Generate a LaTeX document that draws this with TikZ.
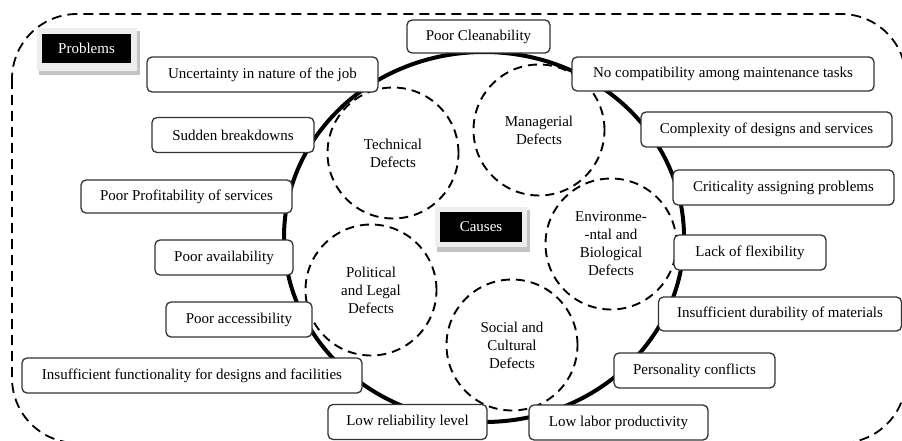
\documentclass[tikz,border=0pt]{standalone}
\usepackage{fontspec}
\setmainfont{Liberation Serif}
\definecolor{BoxBorder}{HTML}{333333}
\definecolor{FrameGray}{HTML}{EEEEEE}
\definecolor{ShadowGray}{HTML}{C4C4C4}
\usetikzlibrary{shapes.geometric, positioning}
\tikzset{
  % Box styles
  problembox/.style={rectangle, rounded corners=5pt, draw=BoxBorder, fill=white, line width=1.3pt, minimum height=35pt, inner sep=0pt, font=\fontsize{15}{18}\selectfont, align=center},
  tagbox/.style={rectangle, fill=black, text=white, inner sep=0pt, font=\fontsize{15}{18}\selectfont},
  % Circle styles
  causecircle/.style={circle, draw=black, dash pattern=on 9pt off 6pt, line width=1.9pt, minimum size=131pt, inner sep=0pt, font=\fontsize{15}{18}\selectfont, align=center},
  % Frame styles
  outerframe/.style={draw=black, dash pattern=on 10pt off 6pt, line width=1.8pt, rounded corners=65pt},
  coreline/.style={draw=black, line width=4pt}
}

\begin{document}
\begin{tikzpicture}[x=1pt, y=-1pt]
  \useasboundingbox (0,0) rectangle (902,441);
  \clip (0,0) rectangle (902,441);

  % Outer frame
  \draw[outerframe] (12,14) rectangle (906,443);

  % Core ring
  \draw[coreline] (484,237) ellipse (200pt and 185pt);

  % Causes
  \node[causecircle] (technical) at (393,153) {Technical\\Defects};
  \node[causecircle] (managerial) at (539,130) {Managerial\\Defects};
  \node[causecircle] (environmental) at (611,244) {Environme-\\-ntal and\\Biological\\Defects};
  \node[causecircle] (social) at (512,345) {Social and\\Cultural\\Defects};
  \node[causecircle] (political) at (371,290) {Political\\and Legal\\Defects};

  % Tags
  \fill[ShadowGray] (39,31) rectangle (140,75);
  \fill[FrameGray] (37,28) rectangle (137,71);
  \node[tagbox, minimum width=89pt, minimum height=29pt] (problems) at (86.5,48.5) {Problems};
  \fill[ShadowGray] (437,210) rectangle (530,252);
  \fill[FrameGray] (435,207) rectangle (527,247);
  \node[tagbox, minimum width=82pt, minimum height=30pt] (causes) at (481,227) {Causes};

  % Problems, left side
  \node[problembox, minimum width=143pt, minimum height=33pt] (cleanability) at (478.5,36.5) {Poor Cleanability};
  \node[problembox, minimum width=231pt] (uncertainty) at (262.5,74.5) {Uncertainty in nature of the job};
  \node[problembox, minimum width=162pt] (breakdowns) at (233,135) {Sudden breakdowns};
  \node[problembox, minimum width=211pt, minimum height=33pt] (profitability) at (186.5,196.5) {Poor Profitability of services};
  \node[problembox, minimum width=138pt] (availability) at (224,257.5) {Poor availability};
  \node[problembox, minimum width=146pt] (accessibility) at (239,319.5) {Poor accessibility};
  \node[problembox, minimum width=340pt] (functionality) at (192,375.5) {Insufficient functionality for designs and facilities};
  \node[problembox, minimum width=159pt] (reliability) at (407.5,422) {Low reliability level};

  % Problems, right side
  \node[problembox, minimum width=302pt, minimum height=34pt] (compatibility) at (723,74) {No compatibility among maintenance tasks};
  \node[problembox, minimum width=251pt] (complexity) at (766.5,129.5) {Complexity of designs and services};
  \node[problembox, minimum width=221pt] (criticality) at (783.5,187.5) {Criticality assigning problems};
  \node[problembox, minimum width=152pt] (flexibility) at (750,252.5) {Lack of flexibility};
  \node[problembox, minimum width=243pt, minimum height=34pt] (durability) at (780,314) {Insufficient durability of materials};
  \node[problembox, minimum width=161pt] (personality) at (694.5,370.5) {Personality conflicts};
  \node[problembox, minimum width=179pt] (productivity) at (618.5,422.5) {Low labor productivity};
\end{tikzpicture}
\end{document}
